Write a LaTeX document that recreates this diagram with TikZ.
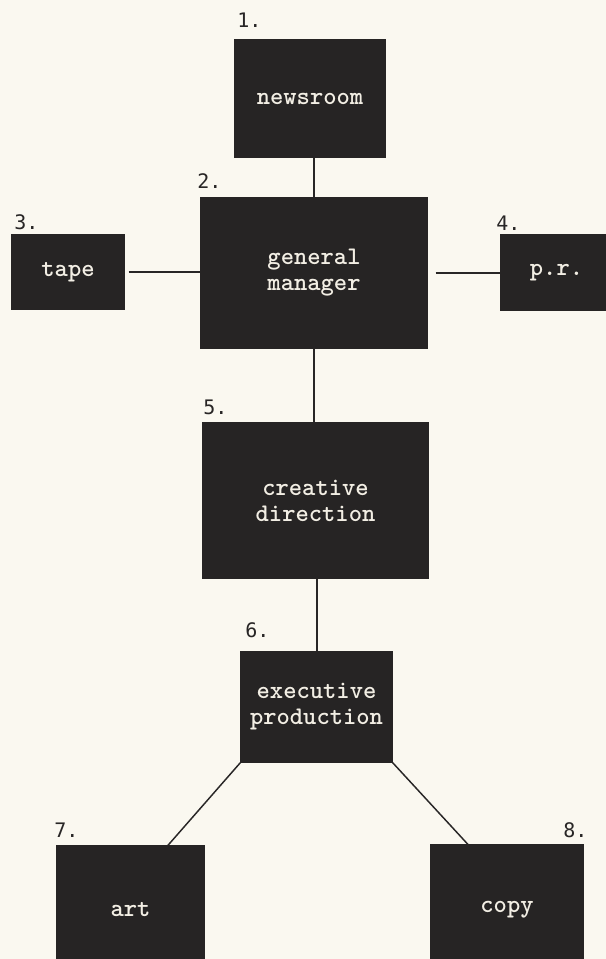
\documentclass[tikz,border=0pt]{standalone}
\usepackage{fontspec}
\newfontfamily\numfont{DejaVu Sans Mono}
\definecolor{paper}{RGB}{250,248,240}
\definecolor{ink}{RGB}{38,36,36}
\definecolor{chalk}{RGB}{242,238,228}
\definecolor{pen}{RGB}{40,38,38}
\begin{document}
\begin{tikzpicture}[x=0.75pt,y=-0.75pt,
  blk/.style={draw=ink, fill=ink, line width=0.8pt, inner sep=0pt, text=chalk,
    font=\ttfamily\bfseries\fontsize{19}{19.5}\selectfont, align=center},
  num/.style={anchor=base west, inner sep=0pt, text=pen,
    font=\numfont\fontsize{15}{15}\selectfont},
  link/.style={draw=pen, line width=1.1pt}]
\fill[paper] (0,0) rectangle (606,959);
\useasboundingbox (0,0) rectangle (606,959);
\clip (0,0) rectangle (606,959);

\node[blk, minimum width=112.5pt, minimum height=87.75pt] (news) at (310,98.5) {newsroom};
\node[blk, minimum width=169.5pt, minimum height=112.5pt] (gm) at (314,273) {general\\manager};
\node[blk, minimum width=84pt, minimum height=55.5pt] (tape) at (68,272) {tape};
\node[blk, minimum width=83.25pt, minimum height=56.25pt] (pr) at (556.5,272.5) {p.r.};
\node[blk, minimum width=168.75pt, minimum height=116.25pt] (cd) at (315.5,500.5) {creative\\direction};
\node[blk, minimum width=113.25pt, minimum height=82.5pt] (ep) at (316.5,707) {executive\\production};
\node[blk, minimum width=110.25pt, minimum height=96pt] (art) at (130.5,910) {art};
\node[blk, minimum width=114pt, minimum height=97.5pt] (copy) at (507,910) {copy};

\node[num] (n1) at (237,28) {1.};
\node[num] (n2) at (197,189) {2.};
\node[num] (n3) at (14,229) {3.};
\node[num] (n4) at (496,231) {4.};
\node[num] (n5) at (203,414) {5.};
\node[num] (n6) at (245,637) {6.};
\node[num] (n7) at (54,837) {7.};
\node[num] (n8) at (563,837) {8.};

\draw[link] (gm.north) -- (gm.north |- news.south);
\draw[link] ([xshift=3pt]tape.east) -- (tape.east -| gm.west);
\draw[link] ([xshift=6pt]gm.east) -- (gm.east -| pr.west);
\draw[link] (gm.south) -- (gm.south |- cd.north);
\draw[link] ([xshift=1pt]cd.south) -- ([xshift=1pt]cd.south |- ep.north);
\draw[link] (ep.south west) -- ([xshift=28pt]art.north);
\draw[link] (ep.south east) -- ([xshift=-29.25pt]copy.north);
\end{tikzpicture}
\end{document}
